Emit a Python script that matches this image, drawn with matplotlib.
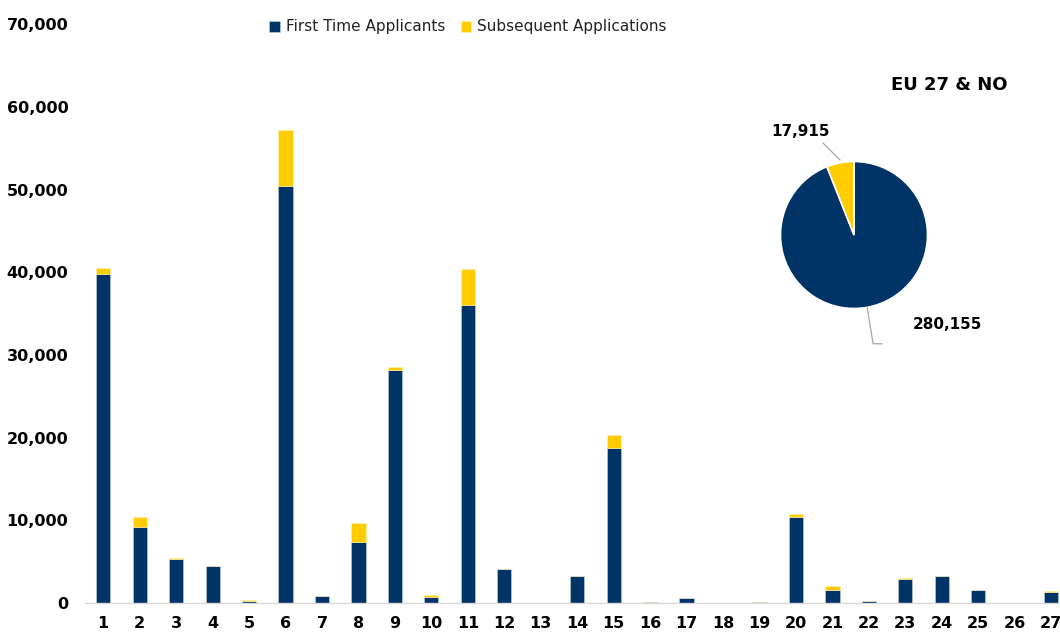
import matplotlib
matplotlib.use("Agg")
import matplotlib.pyplot as plt
from matplotlib.ticker import FuncFormatter

categories = [str(i) for i in range(1, 28)]
first_time = [39870, 9230, 5360, 4470, 250, 50510, 850, 7380, 28170, 720,
              36030, 4070, 0, 3260, 18780, 100, 560, 40, 80, 10400,
              1570, 240, 2860, 3300, 1570, 0, 1370]
subsequent = [720, 1130, 100, 0, 80, 6770, 0, 2330, 400, 250,
              4440, 0, 0, 60, 1530, 60, 40, 20, 50, 360,
              480, 30, 120, 0, 40, 0, 40]
pie_labels = ["First Time Applicants", "Subsequent Applications"]
pie_values = [280155, 17915]
pie_title = "EU 27 & NO"

NAVY = "#003366"
YELLOW = "#FFCC00"

fig = plt.figure(figsize=(10.6, 6.32), dpi=100)
W, H = 1060, 632
x_left = 85
unit = 36.46
ax = fig.add_axes([x_left / W, (H - 603) / H, (28 * unit) / W, (603 - 24.5) / H])

x = list(range(1, 28))
ax.bar(x, first_time, width=0.39, color=NAVY, edgecolor="#c9d3e0", linewidth=0.4,
       label="First Time Applicants")
ax.bar(x, subsequent, width=0.39, bottom=first_time, color=YELLOW, edgecolor="#fff2b0",
       linewidth=0.4, label="Subsequent Applications")

ax.set_xlim(0.5, 28.5)
ax.set_ylim(0, 70000)
ax.set_yticks(range(0, 70001, 10000))
ax.yaxis.set_major_formatter(FuncFormatter(lambda v, p: f"{int(v):,}"))
ax.set_xticks(x)
ax.set_xticklabels(categories)
for s in ["top", "right", "left"]:
    ax.spines[s].set_visible(False)
ax.spines["bottom"].set_color("#d9d9d9")
ax.spines["bottom"].set_linewidth(1.0)
ax.tick_params(axis="y", length=0, pad=12, labelsize=11.5)
ax.tick_params(axis="x", length=0, pad=9, labelsize=11.5)
for lab in ax.get_yticklabels() + ax.get_xticklabels():
    lab.set_fontweight("bold")
    lab.set_color("black")

leg = fig.legend(loc="center", bbox_to_anchor=(468 / W, 1 - 27 / H), ncol=2, frameon=False,
                 fontsize=11, handlelength=0.7, handleheight=0.7, handletextpad=0.4,
                 columnspacing=1.0)
for t in leg.get_texts():
    t.set_color("#222222")

# pie
r = 73.5
cx, cy = 854, 235
pax = fig.add_axes([(cx - r) / W, (H - cy - r) / H, 2 * r / W, 2 * r / H])
pax.pie(pie_values, colors=[NAVY, YELLOW], startangle=90, counterclock=False,
        wedgeprops=dict(edgecolor="white", linewidth=1.2), radius=1)
pax.set_xlim(-1, 1)
pax.set_ylim(-1, 1)
pax.set_aspect("equal")
pax.axis("off")

pax.text(-0.73, 1.41, f"{pie_values[1]:,}", ha="center", va="center",
         fontsize=11, fontweight="bold")
pax.plot([-0.42, -0.19], [1.25, 1.02], color="#a6a6a6", lw=0.9, clip_on=False)
pax.text(1.27, -1.22, f"{pie_values[0]:,}", ha="center", va="center",
         fontsize=11, fontweight="bold")
pax.plot([0.18, 0.26, 0.38], [-0.99, -1.48, -1.48], color="#a6a6a6", lw=0.9, clip_on=False)
fig.text(949 / W, 1 - 85 / H, pie_title, ha="center", va="center",
         fontsize=13, fontweight="bold")

fig.savefig("out.png", dpi=100)
